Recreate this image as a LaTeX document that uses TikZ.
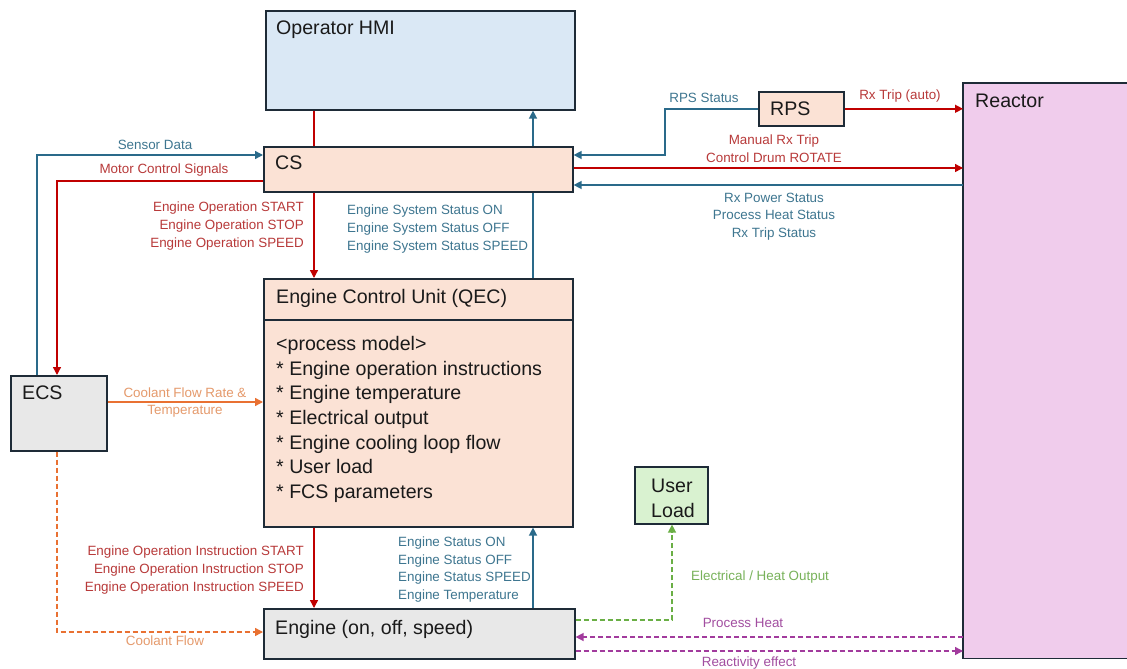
\documentclass[tikz,border=0pt]{standalone}
\usepackage{fontspec}
\setmainfont{Liberation Sans}
\usetikzlibrary{arrows.meta}
\definecolor{hmiC}{HTML}{DAE8F5}
\definecolor{peachC}{HTML}{FBE2D5}
\definecolor{grayC}{HTML}{E8E8E8}
\definecolor{greenC}{HTML}{D9F2D0}
\definecolor{pinkC}{HTML}{F0CCEC}
\definecolor{borderC}{HTML}{1E2B37}
\definecolor{textC}{HTML}{1A1A1A}
\definecolor{redL}{HTML}{C00000}
\definecolor{redT}{HTML}{B83A3A}
\definecolor{tealL}{HTML}{2A6A8A}
\definecolor{tealT}{HTML}{3E7690}
\definecolor{orangeL}{HTML}{E97132}
\definecolor{orangeT}{HTML}{E59A6C}
\definecolor{greenL}{HTML}{6AAF45}
\definecolor{greenT}{HTML}{78B25A}
\definecolor{purpleL}{HTML}{A23B9D}
\definecolor{purpleT}{HTML}{A24EA0}
\begin{document}
\begin{tikzpicture}[x=1pt,y=-1pt,
  box/.style={draw=borderC, line width=1.6pt, anchor=north west, inner sep=0pt},
  btxt/.style={font=\fontsize{19.6}{24.7}\selectfont, inner sep=0pt, anchor=base west, text=textC},
  lbl/.style={font=\fontsize{13.4}{17.6}\selectfont, inner sep=0pt},
  tip/.style={-{Triangle[length=8pt,width=8pt]}},
  conn/.style={line width=1.4pt},
  dconn/.style={line width=1.4pt, dash pattern=on 5pt off 3pt}
]
\useasboundingbox (0,0) rectangle (1127,669);
\clip (0,0) rectangle (1127,669);
\fill[white] (0,0) rectangle (1127,669);

% boxes
\node[box, fill=hmiC, minimum width=309, minimum height=99] (hmi) at (265,10) {};
\node[btxt] (hmit) at (276,35) {Operator HMI};
\node[box, fill=peachC, minimum width=309, minimum height=45] (cs) at (263,146) {};
\node[btxt] (cst) at (275,169) {CS};
\node[box, fill=peachC, minimum width=309, minimum height=248] (qec) at (263,278) {};
\draw[draw=borderC, line width=1.6pt] (qec.west |- 0,320) -- (qec.east |- 0,320);
\node[btxt] (qect) at (276,303) {Engine Control Unit (QEC)};
\node[btxt, anchor=north west, align=left] (qecl) at (276,336) {<process model>\\
* Engine operation instructions\\
* Engine temperature\\
* Electrical output\\
* Engine cooling loop flow\\
* User load\\
* FCS parameters};
\node[box, fill=grayC, minimum width=311, minimum height=50] (eng) at (263,608) {};
\node[btxt] (engt) at (275,634) {Engine (on, off, speed)};
\node[box, fill=grayC, minimum width=96, minimum height=75] (ecs) at (10,375) {};
\node[btxt] (ecst) at (22,399) {ECS};
\node[box, fill=peachC, minimum width=85, minimum height=34] (rps) at (758,91) {};
\node[btxt] (rpst) at (770,115) {RPS};
\node[box, draw=none, fill=pinkC, minimum width=185, minimum height=574] (rx) at (963,83) {};
\draw[draw=borderC, line width=1.6pt] (rx.north east) -- (rx.north west) -- (rx.south west) -- (rx.south east);
\node[btxt] (rxt) at (975,107) {Reactor};
\node[box, fill=greenC, minimum width=73, minimum height=57] (ul) at (634,466) {};
\node[btxt] (ult1) at (651,492) {User};
\node[btxt] (ult2) at (651,517) {Load};

% HMI <-> CS
\draw[conn, redL] (hmi.south -| 314,0) -- (cs.north -| 314,0);
\draw[conn, tealL, tip] (cs.north -| 533,0) -- (hmi.south -| 533,0);
% CS <-> QEC
\draw[conn, redL, tip] (cs.south -| 314,0) -- (qec.north -| 314,0);
\draw[conn, tealL] (qec.north -| 533,0) -- (cs.south -| 533,0);
\node[lbl, text=redT, align=right, anchor=east] (l1) at (304,226) {Engine Operation START\\Engine Operation STOP\\Engine Operation SPEED};
\node[lbl, text=tealT, align=left, anchor=west] (l2) at (347,229) {Engine System Status ON\\Engine System Status OFF\\Engine System Status SPEED};
% QEC <-> Engine
\draw[conn, redL, tip] (qec.south -| 314,0) -- (eng.north -| 314,0);
\draw[conn, tealL, tip] (eng.north -| 533,0) -- (qec.south -| 533,0);
\node[lbl, text=redT, align=right, anchor=east] (l3) at (304,570) {Engine Operation Instruction START\\Engine Operation Instruction STOP\\Engine Operation Instruction SPEED};
\node[lbl, text=tealT, align=left, anchor=west] (l4) at (398,569.5) {Engine Status ON\\Engine Status OFF\\Engine Status SPEED\\Engine Temperature};

% ECS connections
\draw[conn, tealL, tip] ([xshift=27pt]ecs.north west) |- (cs.west |- 0,155);
\node[lbl, text=tealT] (l5) at (155,145) {Sensor Data};
\draw[conn, redL, tip] (cs.west |- 0,181) -| ([xshift=47pt]ecs.north west);
\node[lbl, text=redT] (l6) at (164,170) {Motor Control Signals};
\draw[conn, orangeL, tip] (ecs.east |- 0,402) -- (qec.west |- 0,402);
\node[lbl, text=orangeT, align=center] (l7) at (185,402.5) {Coolant Flow Rate \&\\Temperature};
\draw[dconn, orangeL, tip] ([xshift=47pt]ecs.south west) |- (eng.west |- 0,632);
\node[lbl, text=orangeT] (l8) at (165,641) {Coolant Flow};

% RPS and Reactor
\coordinate (rpsbend) at (665,155);
\draw[conn, tealL, tip] (rps.west) -| (rpsbend) -- (cs.east |- rpsbend);
\node[lbl, text=tealT] (l9) at (704,98) {RPS Status};
\draw[conn, redL, tip] (rps.east) -- (rx.west |- rps.east);
\node[lbl, text=redT] (l10) at (900,96) {Rx Trip (auto)};
\draw[conn, redL, tip] (cs.east |- 0,168) -- (rx.west |- 0,168);
\node[lbl, text=redT, align=center] (l11) at (774,148.5) {Manual Rx Trip\\Control Drum ROTATE};
\draw[conn, tealL, tip] (rx.west |- 0,185) -- (cs.east |- 0,185);
\node[lbl, text=tealT, align=center] (l12) at (774,216.5) {Rx Power Status\\Process Heat Status\\Rx Trip Status};

% Engine outputs
\draw[dconn, greenL, tip] (eng.east |- 0,620) -| (ul.south -| 672,0);
\node[lbl, text=greenT, anchor=west] (l13) at (691,577) {Electrical / Heat Output};
\draw[dconn, purpleL, tip] (rx.west |- 0,637) -- (eng.east |- 0,637);
\node[lbl, text=purpleT] (l14) at (743,623) {Process Heat};
\draw[dconn, purpleL, tip] (eng.east |- 0,651) -- (rx.west |- 0,651);
\node[lbl, text=purpleT] (l15) at (749,663) {Reactivity effect};
\end{tikzpicture}
\end{document}
